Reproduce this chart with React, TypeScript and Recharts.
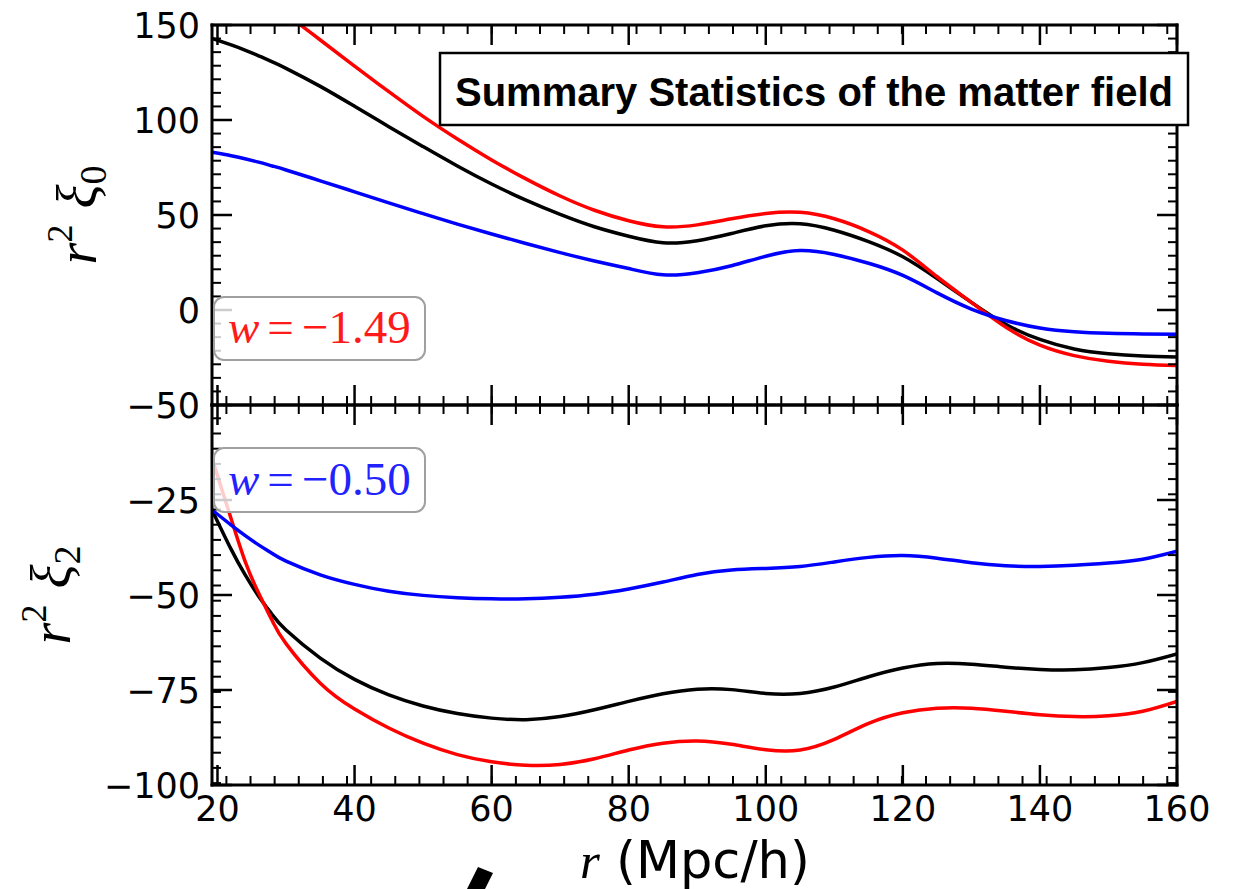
import React from "react";
import { LineChart, Line, XAxis, YAxis } from "recharts";

// separation r (Mpc/h)
const R = [19.2, 22, 24, 26, 28, 30, 35, 40, 45, 50, 55, 60, 65, 70, 75, 80, 85, 90, 95, 100, 105, 110, 115, 120, 125, 130, 135, 140, 145, 150, 155, 160];

// monopole r^2 xi_0
const XI0_BLACK = [143, 139.5, 136.8, 133.8, 130.6, 127.2, 117.7, 107.2, 96.5, 86, 75.8, 66.3, 57.8, 50.3, 43.8, 38.8, 35.4, 36.5, 40.3, 44.3, 45.4, 42, 36, 28, 16.5, 4, -7.5, -15.5, -20.5, -23, -24.2, -24.8];
const XI0_RED = [183, 176.5, 171.6, 166.5, 161.2, 155.8, 142.1, 128.4, 114.9, 101.9, 90, 79, 69, 60, 52.5, 47, 43.8, 44.8, 48, 50.8, 51.4, 48, 41.3, 31.5, 17.5, 4, -9, -18.5, -24, -27, -28.5, -29.2];
const XI0_BLUE = [83, 81.2, 79.6, 77.8, 75.8, 73.7, 68, 62.2, 56.4, 50.7, 45.2, 40, 35, 30.2, 25.8, 21.8, 18.5, 19.6, 23.3, 28.3, 31.3, 29.2, 24.6, 18.2, 9, 0.5, -5.5, -9.5, -11.5, -12.3, -12.6, -12.7];

// quadrupole r^2 xi_2
const XI2_BLACK = [-27.6, -38, -44.6, -50.3, -55.2, -59.2, -66.6, -72.2, -76.3, -79.2, -81.2, -82.4, -82.8, -82, -80.2, -78, -76, -74.8, -74.9, -75.9, -75.9, -74.2, -71.5, -69.2, -68, -68.2, -69, -69.6, -69.7, -69.1, -67.8, -65.5];
const XI2_RED = [-14, -30, -41, -49.5, -56.8, -62.8, -73.2, -80, -85, -89, -92, -93.9, -94.8, -94.6, -93.1, -90.8, -89, -88.4, -89.3, -90.7, -90.8, -88, -83.8, -81, -79.8, -79.8, -80.6, -81.5, -82, -81.8, -80.6, -78];
const XI2_BLUE = [-27.6, -31.6, -34.3, -36.8, -39.1, -41.1, -44.7, -47.2, -49, -50.1, -50.7, -51, -51, -50.6, -49.8, -48.4, -46.6, -44.6, -43.4, -43, -42.5, -41.3, -40.1, -39.6, -40.3, -41.5, -42.3, -42.5, -42.2, -41.6, -40.6, -38.5];

// ticks
const X_MAJOR = [20, 40, 60, 80, 100, 120, 140, 160];
const X_MINOR = Array.from({ length: 40 }, (_, k) => +(21.3 + 3.52 * k).toFixed(2));
const XI0_MAJOR = [-50, 0, 50, 100, 150];
const XI0_MINOR = Array.from({ length: 29 }, (_, i) => i - 7)
  .filter((k) => k % 7 !== 0)
  .map((k) => (k * 50) / 7);
const XI2_MAJOR = [-100, -75, -50, -25];
const XI2_MINOR = Array.from({ length: 25 }, (_, k) => -3.5 - 4 * k);

const X_DOMAIN: [number, number] = [19.2, 160];

const topData = R.map((r, i) => ({ r, black: XI0_BLACK[i], red: XI0_RED[i], blue: XI0_BLUE[i] }));
const bottomData = R.map((r, i) => ({ r, black: XI2_BLACK[i], red: XI2_RED[i], blue: XI2_BLUE[i] }));

const MAJOR_LEN = 20;
const MINOR_LEN = 9;
const TICK_FONT = "'DejaVu Sans', sans-serif";

function fmt(v: number) {
  return v < 0 ? `\u2212${Math.abs(v)}` : `${v}`;
}

type Side = "left" | "right" | "top" | "bottom";

function inwardTick(side: Side, majors: number[], labels: boolean) {
  return (props: any) => {
    const { x, y, payload } = props;
    const v = payload.value as number;
    const isMajor = majors.includes(v);
    const len = isMajor ? MAJOR_LEN : MINOR_LEN;
    const dx = side === "left" ? len : side === "right" ? -len : 0;
    const dy = side === "top" ? len : side === "bottom" ? -len : 0;
    return (
      <g>
        <line x1={x} y1={y} x2={x + dx} y2={y + dy} stroke="#000" strokeWidth={isMajor ? 2.5 : 2} />
        {labels && isMajor && side === "left" && (
          <text x={x - 12} y={y} dy="0.36em" textAnchor="end" fontFamily={TICK_FONT} fontSize={35} fill="#000">
            {fmt(v)}
          </text>
        )}
        {labels && isMajor && side === "bottom" && (
          <text x={x} y={y + 36} textAnchor="middle" fontFamily={TICK_FONT} fontSize={35} fill="#000">
            {fmt(v)}
          </text>
        )}
      </g>
    );
  };
}

const frame = { stroke: "#000", strokeWidth: 3, strokeLinecap: "square" as const };

function Series() {
  const common = { type: "natural" as const, xAxisId: "b", yAxisId: "l", strokeWidth: 3.5, dot: false, isAnimationActive: false };
  return [
    <Line key="k" dataKey="black" stroke="#000" {...common} />,
    <Line key="r" dataKey="red" stroke="#ff0000" {...common} />,
    <Line key="u" dataKey="blue" stroke="#0000ff" {...common} />,
    // carries the mirrored top/right axes so they get drawn
    <Line key="m" dataKey="black" xAxisId="t" yAxisId="r" stroke="none" strokeWidth={0} dot={false} activeDot={false} isAnimationActive={false} />,
  ];
}

function Panel({
  data,
  yDomain,
  yMajor,
  yMinor,
  xLabels,
  height,
  margin,
  xAxisHeight,
}: {
  data: any[];
  yDomain: [number, number];
  yMajor: number[];
  yMinor: number[];
  xLabels: boolean;
  height: number;
  margin: { top: number; right: number; bottom: number; left: number };
  xAxisHeight: number;
}) {
  const xTicks = [...X_MAJOR, ...X_MINOR];
  const yTicks = [...yMajor, ...yMinor];
  return (
    <LineChart width={1245} height={height} data={data} margin={margin}>
      <XAxis
        xAxisId="b"
        dataKey="r"
        type="number"
        domain={X_DOMAIN}
        allowDataOverflow
        ticks={xTicks}
        interval={0}
        orientation="bottom"
        height={xAxisHeight}
        tickSize={0}
        tickMargin={0}
        tickLine={false}
        axisLine={frame}
        tick={inwardTick("bottom", X_MAJOR, xLabels)}
      />
      <XAxis
        xAxisId="t"
        dataKey="r"
        type="number"
        domain={X_DOMAIN}
        allowDataOverflow
        ticks={xTicks}
        interval={0}
        orientation="top"
        height={1}
        tickSize={0}
        tickMargin={0}
        tickLine={false}
        axisLine={frame}
        tick={inwardTick("top", X_MAJOR, false)}
      />
      <YAxis
        yAxisId="l"
        type="number"
        domain={yDomain}
        allowDataOverflow
        ticks={yTicks}
        interval={0}
        orientation="left"
        width={212}
        tickSize={0}
        tickMargin={0}
        tickLine={false}
        axisLine={frame}
        tick={inwardTick("left", yMajor, true)}
      />
      <YAxis
        yAxisId="r"
        type="number"
        domain={yDomain}
        allowDataOverflow
        ticks={yTicks}
        interval={0}
        orientation="right"
        width={1}
        tickSize={0}
        tickMargin={0}
        tickLine={false}
        axisLine={frame}
        tick={inwardTick("right", yMajor, false)}
      />
      {Series()}
    </LineChart>
  );
}

const MATH_FONT = "'Liberation Serif', 'DejaVu Serif', serif";

function Overlay() {
  return (
    <svg width={1245} height={889} style={{ position: "absolute", left: 0, top: 0, pointerEvents: "none" }}>
      {/* title box */}
      <rect x={440} y={53} width={748} height={72} fill="#fff" stroke="#000" strokeWidth={2.5} />
      <text x={455} y={106} fontFamily="'Liberation Sans', Arial, sans-serif" fontWeight="bold" fontSize={40} fill="#000">
        Summary Statistics of the matter field
      </text>

      {/* w labels */}
      <rect x={214} y={297} width={211} height={63} rx={10} fill="#fff" fillOpacity={0.8} stroke="#a0a0a0" strokeWidth={2} />
      <text x={228} y={343} fontFamily={MATH_FONT} fontSize={47} fill="#ff1a1a">
        <tspan fontStyle="italic">w</tspan>
        <tspan dx={8}>=</tspan>
        <tspan dx={8}>{"\u22121.49"}</tspan>
      </text>
      <rect x={214} y={448} width={211} height={64} rx={10} fill="#fff" fillOpacity={0.8} stroke="#a0a0a0" strokeWidth={2} />
      <text x={228} y={495} fontFamily={MATH_FONT} fontSize={47} fill="#2222ff">
        <tspan fontStyle="italic">w</tspan>
        <tspan dx={8}>=</tspan>
        <tspan dx={8}>{"\u22120.50"}</tspan>
      </text>

      {/* y axis titles */}
      <text transform="translate(96,215) rotate(-90)" textAnchor="middle" fontFamily={MATH_FONT} fontSize={56} fill="#000">
        <tspan fontStyle="italic">r</tspan>
        <tspan fontSize={36} dy={-24}>2</tspan>
        <tspan fontStyle="italic" dx={16} dy={24}>ξ</tspan>
        <tspan fontSize={38} dy={10}>0</tspan>
      </text>
      <text transform="translate(70,595) rotate(-90)" textAnchor="middle" fontFamily={MATH_FONT} fontSize={56} fill="#000">
        <tspan fontStyle="italic">r</tspan>
        <tspan fontSize={36} dy={-24}>2</tspan>
        <tspan fontStyle="italic" dx={16} dy={24}>ξ</tspan>
        <tspan fontSize={38} dy={10}>2</tspan>
      </text>

      {/* x axis title */}
      <text x={580} y={878} fontSize={51} fill="#000" fontFamily={TICK_FONT}>
        <tspan fontFamily={MATH_FONT} fontStyle="italic">r</tspan>
        <tspan> (Mpc/h)</tspan>
      </text>

      {/* stray stroke at the bottom edge */}
      <polygon points="478,867 493,873 485,889 467,889" fill="#000" />
    </svg>
  );
}

export default function App() {
  return (
    <div style={{ position: "absolute", left: 0, top: 0, width: 1245, height: 889, background: "#fff", overflow: "hidden" }}>
      <div style={{ position: "absolute", left: 0, top: 0 }}>
        <Panel
          data={topData}
          yDomain={[-50, 150]}
          yMajor={XI0_MAJOR}
          yMinor={XI0_MINOR}
          xLabels={false}
          height={440}
          margin={{ top: 24, right: 67, bottom: 34, left: 0 }}
          xAxisHeight={1}
        />
      </div>
      <div style={{ position: "absolute", left: 0, top: 390 }}>
        <Panel
          data={bottomData}
          yDomain={[-100, 0]}
          yMajor={XI2_MAJOR}
          yMinor={XI2_MINOR}
          xLabels={true}
          height={499}
          margin={{ top: 14, right: 67, bottom: 0, left: 0 }}
          xAxisHeight={104}
        />
      </div>
      <Overlay />
    </div>
  );
}
